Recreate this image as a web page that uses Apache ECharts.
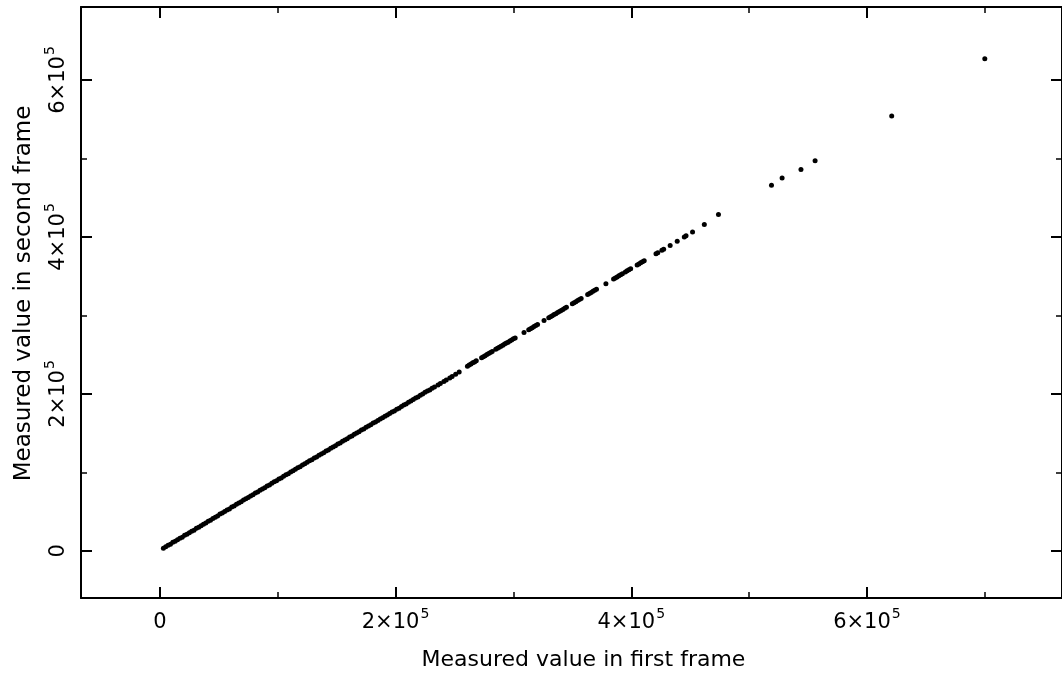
<!DOCTYPE html>
<html>
<head>
<meta charset="utf-8">
<script src="https://cdn.jsdelivr.net/npm/echarts@6/dist/echarts.min.js"></script>
<style>
html,body{margin:0;padding:0;background:#fff;}
#chart{width:1062px;height:681px;}
</style>
</head>
<body>
<div id="chart"></div>
<script>
const firstFrame = [
  3,5,7,9,11,13,15,17,19,21,23,25,27,29,31,33,35,37,39,41,43,45,47,49,51,53,55,57,59,61,
  63,65,67,69,71,73,75,77,79,81,83,85,87,89,91,93,95,97,99,101,103,105,107,109,111,113,115,117,119,121,
  123,125,127,129,131,133,135,137,139,141,143,145,147,149,151,153,155,157,159,161,163,165,167,169,171,173,175,177,179,181,
  183,185,187,189,191,193,195,197,199,201,203,205,207,209,211,213,215,217,219,221,223,225,227,229,231,233,236,238,241,243,
  246,248,251,254,
  261,262.5,264,265.5,267,268.5,
  273,274.5,276,277.5,279,280.5,282,
  285,286.5,288,289.5,291,292.5,294,295.5,297,298.5,300,301.5,
  309,
  313,314.5,316,317.5,319,320.5,
  326,
  330,331.5,333,334.5,336,337.5,339,340.5,342,343.5,345,
  350,351.5,353,354.5,356,357.5,
  363,364.5,366,367.5,369,370.5,
  378.5,
  385,386.5,388,389.5,391,392.5,
  395,396.5,398,399.5,
  405,406.5,408,409.5,411,
  421,422.5,426,427.5,433,439,445,446.5,452,462,474,
  519,528,544,556,621,700
];
const secondFrame = [
  3.5,5.2,7.1,8.6,10.9,12.4,14.3,16.1,17.5,19.8,21.3,23.2,25.1,26.4,28.8,30.3,32.1,34.0,35.6,37.9,39.2,41.3,43.0,44.6,46.9,48.3,50.2,52.1,53.5,55.8,
  57.2,59.3,61.0,62.6,64.9,66.3,68.2,70.1,71.6,73.7,75.2,77.3,79.0,80.5,82.8,84.1,86.3,88.0,89.4,91.7,93.0,95.2,96.9,98.4,100.6,102.0,104.1,105.8,107.3,109.6,
  110.9,113.0,114.8,116.2,118.5,119.8,122.0,123.6,125.1,127.4,128.7,130.9,132.5,134.0,136.2,137.6,139.7,141.4,142.9,145.1,146.4,148.6,150.2,151.8,154.0,155.3,157.5,159.1,160.6,162.9,
  164.2,166.3,168.0,169.5,171.7,173.1,175.2,176.9,178.4,180.6,181.9,184.1,185.8,187.3,189.5,190.9,193.0,194.7,196.2,198.4,199.8,202.0,203.6,205.1,207.3,208.7,211.5,213.4,216.0,217.6,
  220.4,222.1,225.0,227.8,
  235.2,236.8,238.0,239.6,240.7,242.2,
  246.0,247.5,248.8,250.2,251.4,252.9,254.0,
  256.8,258.1,259.5,260.6,262.1,263.5,264.8,266.0,267.6,268.8,270.2,271.4,
  278.2,
  281.7,283.2,284.4,285.9,287.1,288.4,
  293.5,
  297.0,298.4,299.6,301.1,302.3,303.8,305.0,306.4,307.7,309.1,310.4,
  314.9,316.2,317.5,319.0,320.2,321.7,
  326.7,328.0,329.3,330.8,332.0,333.4,
  340.5,
  346.4,347.8,349.1,350.5,351.8,353.2,
  355.4,356.8,358.1,359.5,
  364.3,365.7,367.0,368.4,369.6,
  378.5,379.9,383.0,384.3,389.2,394.6,400.0,401.4,406.3,415.8,428.5,
  466,475,486,497,554,627
];
const xAxisTitle = 'Measured value in first frame';
const yAxisTitle = 'Measured value in second frame';
const xRange = [-66900, 765500];
const yRange = [-60000, 693000];
const tickStep = 200000;

const points = firstFrame.map((v, i) => [v * 1000, secondFrame[i] * 1000]);

const FONT = 'DejaVu Sans';
function sciLabel(v) {
  if (v === 0) return '{b|0}';
  const m = Math.round(v / 1e5);
  return '{b|' + m + '×10}{s|5}';
}
const rich = {
  b: { fontFamily: FONT, fontSize: 21, color: '#000', lineHeight: 26, verticalAlign: 'bottom' },
  s: { fontFamily: FONT, fontSize: 14, color: '#000', lineHeight: 26, verticalAlign: 'top', padding: [0, 0, 0, 1] }
};
const lineS = { color: '#000', width: 2 };
function axisCommon(extra) {
  return Object.assign({
    type: 'value',
    scale: false,
    splitNumber: 4,
    minInterval: tickStep,
    maxInterval: tickStep,
    splitLine: { show: false },
    minorSplitLine: { show: false },
    axisLine: { show: true, onZero: false, lineStyle: lineS },
    axisTick: { show: true, inside: true, length: 11, lineStyle: lineS },
    minorTick: { show: true, splitNumber: 2, length: 6, lineStyle: { color: '#000', width: 1.5 } }
  }, extra);
}

const chart = echarts.init(document.getElementById('chart'), null, { renderer: 'canvas' });
chart.setOption({
  animation: false,
  backgroundColor: '#fff',
  grid: { left: 81, top: 7, width: 983, height: 591, containLabel: false },
  xAxis: [
    axisCommon({
      position: 'bottom', min: xRange[0], max: xRange[1],
      name: xAxisTitle, nameLocation: 'middle', nameGap: 51,
      nameTextStyle: { fontFamily: FONT, fontSize: 22, color: '#000', padding: [0, 0, 0, 24] },
      axisLabel: { show: true, margin: 9, showMinLabel: false, showMaxLabel: false, formatter: sciLabel, rich: rich }
    }),
    axisCommon({ position: 'top', min: xRange[0], max: xRange[1], axisLabel: { show: false } })
  ],
  yAxis: [
    axisCommon({
      position: 'left', min: yRange[0], max: yRange[1],
      name: yAxisTitle, nameLocation: 'middle', nameGap: 45,
      nameTextStyle: { fontFamily: FONT, fontSize: 23, color: '#000', padding: [0, 0, 0, 18] },
      axisLabel: { show: true, rotate: 90, margin: 12, showMinLabel: false, showMaxLabel: false, formatter: sciLabel, rich: rich }
    }),
    axisCommon({ position: 'right', min: yRange[0], max: yRange[1], axisLabel: { show: false } })
  ],
  series: [{
    type: 'scatter',
    xAxisIndex: 0,
    yAxisIndex: 0,
    data: points,
    symbol: 'circle',
    symbolSize: 5,
    itemStyle: { color: '#000', opacity: 1 },
    silent: true
  }]
});
</script>
</body>
</html>
